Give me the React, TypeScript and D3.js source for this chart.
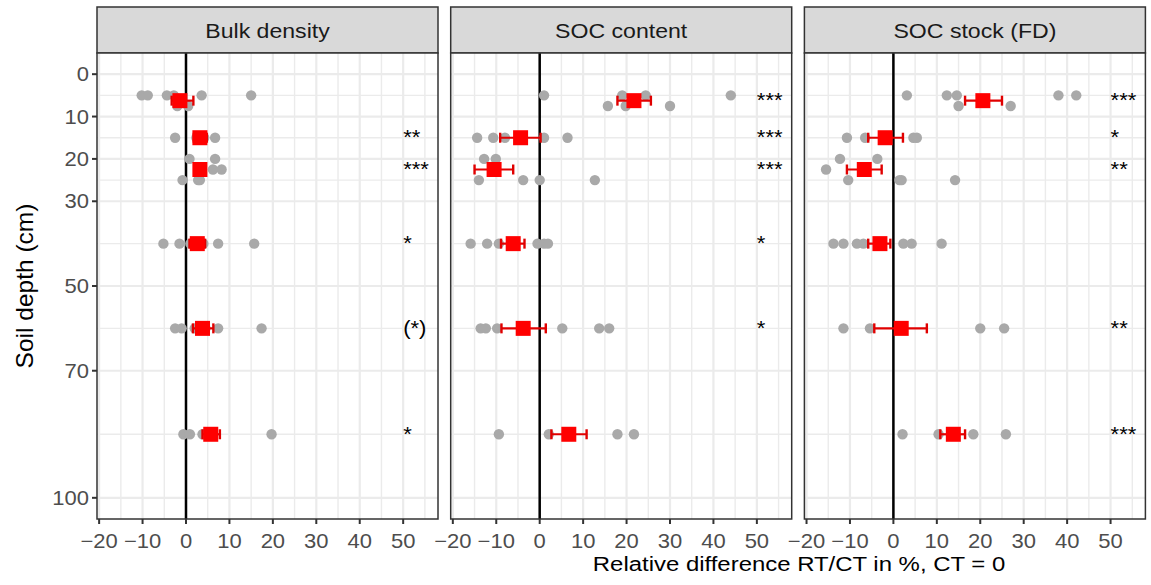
import React from "react";
import * as d3 from "d3";

// ---------- data ----------
const panels = ["Bulk density", "SOC content", "SOC stock (FD)"];
const rowDepths = [6.25, 15, 22.5, 40, 60, 85];

const meanBD = [-1.4, 3.2, 3.2, 2.6, 3.8, 5.7];
const loBD = [-3.3, 1.8, 2.0, 0.8, 1.6, 3.8];
const hiBD = [1.7, 4.8, 4.4, 4.4, 6.3, 7.8];
const sigBD = ["", "**", "***", "*", "(*)", "*"];

const meanSOC = [21.7, -4.4, -10.5, -6.1, -3.8, 6.7];
const loSOC = [17.9, -9.1, -15.0, -8.9, -8.8, 2.7];
const hiSOC = [25.6, 0.2, -6.1, -3.5, 1.4, 10.8];
const sigSOC = ["***", "***", "***", "*", "*", ""];

const meanStock = [20.6, -1.9, -6.7, -3.1, 1.8, 13.8];
const loStock = [16.5, -5.8, -10.7, -5.8, -4.4, 10.8];
const hiStock = [25.0, 2.2, -2.7, -0.7, 7.7, 16.5];
const sigStock = ["***", "*", "**", "", "**", "***"];

// single observations: [depth, relative difference]
const ptsBD: [number, number][] = [
  [5, -10.2], [5, -8.8], [5, -4.4], [5, -2.8], [5, 3.6], [5, 15.0], [7.5, 0.5], [7.5, -2.0],
  [15, -2.5], [15, 2.4], [15, 4.2], [15, 6.7],
  [20, 0.8], [20, 6.7], [22.5, 6.2], [22.5, 8.2], [25, -0.8], [25, 2.8], [25, 3.2],
  [40, -5.2], [40, -1.5], [40, 1.0], [40, 4.0], [40, 7.4], [40, 15.7],
  [60, -2.5], [60, -1.0], [60, 2.0], [60, 4.5], [60, 7.4], [60, 17.4],
  [85, -0.6], [85, 0.9], [85, 3.8], [85, 5.0], [85, 19.7],
];
const ptsSOC: [number, number][] = [
  [5, 1.0], [5, 19.0], [5, 24.4], [5, 44.0], [7.5, 15.7], [7.5, 19.8], [7.5, 30.0],
  [15, -14.4], [15, -10.7], [15, -8.0], [15, 1.0], [15, 6.4],
  [20, -12.8], [20, -10.1], [25, -14.0], [25, -3.8], [25, 0.0], [25, 12.7],
  [40, -15.9], [40, -12.1], [40, -9.4], [40, -0.5], [40, 1.0], [40, 1.9],
  [60, -13.6], [60, -12.4], [60, -9.8], [60, 5.2], [60, 13.7], [60, 16.0],
  [85, -9.4], [85, 2.1], [85, 17.9], [85, 21.7],
];
const ptsStock: [number, number][] = [
  [5, 3.1], [5, 12.3], [5, 14.6], [5, 38.0], [5, 42.1], [7.5, 15.0], [7.5, 27.0],
  [15, -10.7], [15, -6.5], [15, 4.6], [15, 5.4],
  [20, -12.3], [20, -3.7], [22.5, -15.5], [25, -10.4], [25, 1.4], [25, 1.9], [25, 14.2],
  [40, -13.8], [40, -11.5], [40, -8.4], [40, -6.9], [40, 2.3], [40, 4.2], [40, 11.1],
  [60, -11.5], [60, -5.4], [60, 20.0], [60, 25.5],
  [85, 2.1], [85, 10.4], [85, 18.4], [85, 25.9],
];

const xTicks = [-20, -10, 0, 10, 20, 30, 40, 50];
const xMinor = [-15, -5, 5, 15, 25, 35, 45, 55];
const yTicks = [0, 10, 20, 30, 50, 70, 100];
const yMinor = [5, 15, 25, 40, 60, 85];

const xTitle = "Relative difference RT/CT in %, CT = 0";
const yTitle = "Soil depth (cm)";

// ---------- layout ----------
const W = 1151;
const H = 585;
const panelLefts = [97, 450.7, 804.4];
const panelW = 341;
const stripTop = 7;
const panelTop = 53;
const panelBottom = 519;
const font = "'Liberation Sans', Arial, Helvetica, sans-serif";

const panelData = [
  { mean: meanBD, lo: loBD, hi: hiBD, sig: sigBD, pts: ptsBD },
  { mean: meanSOC, lo: loSOC, hi: hiSOC, sig: sigSOC, pts: ptsSOC },
  { mean: meanStock, lo: loStock, hi: hiStock, sig: sigStock, pts: ptsStock },
];

function SText(props: {
  x: number;
  y: number;
  sx?: number;
  size: number;
  anchor?: string;
  fill?: string;
  dy?: string;
  children: React.ReactNode;
}) {
  const { x, y, sx = 1, size, anchor = "start", fill = "#000", dy, children } = props;
  return (
    <text
      transform={`translate(${x},${y}) scale(${sx},1)`}
      dy={dy}
      textAnchor={anchor}
      fontSize={size}
      fill={fill}
    >
      {children}
    </text>
  );
}

export default function App() {
  const y = d3.scaleLinear().domain([-5, 105]).range([panelTop, panelBottom]);
  const sq = 15;
  const cap = 5;

  return (
    <svg
      width={W}
      height={H}
      style={{ position: "absolute", left: 0, top: 0, background: "#fff" }}
      fontFamily={font}
    >
      <rect x={0} y={0} width={W} height={H} fill="#fff" />
      {panels.map((name, pi) => {
        const left = panelLefts[pi];
        const x = d3.scaleLinear().domain([-20.49, 58.02]).range([left, left + panelW]);
        const d = panelData[pi];
        return (
          <g key={name}>
            {/* strip */}
            <rect
              x={left}
              y={stripTop}
              width={panelW}
              height={panelTop - stripTop}
              fill="#D9D9D9"
              stroke="#333333"
              strokeWidth={1.5}
            />
            <SText x={left + panelW / 2} y={(stripTop + panelTop) / 2} dy="0.36em" anchor="middle" size={21} sx={1.1} fill="#1A1A1A">
              {name}
            </SText>
            {/* panel background + grid */}
            <rect x={left} y={panelTop} width={panelW} height={panelBottom - panelTop} fill="#fff" />
            {xMinor.map((t) => (
              <line key={"xm" + t} x1={x(t)} x2={x(t)} y1={panelTop} y2={panelBottom} stroke="#EBEBEB" strokeWidth={1.4} />
            ))}
            {yMinor.map((t) => (
              <line key={"ym" + t} x1={left} x2={left + panelW} y1={y(t)} y2={y(t)} stroke="#EBEBEB" strokeWidth={1.4} />
            ))}
            {xTicks.map((t) => (
              <line key={"xM" + t} x1={x(t)} x2={x(t)} y1={panelTop} y2={panelBottom} stroke="#EBEBEB" strokeWidth={2.2} />
            ))}
            {yTicks.map((t) => (
              <line key={"yM" + t} x1={left} x2={left + panelW} y1={y(t)} y2={y(t)} stroke="#EBEBEB" strokeWidth={2.2} />
            ))}
            {/* zero line */}
            <line x1={x(0)} x2={x(0)} y1={panelTop} y2={panelBottom} stroke="#000" strokeWidth={2.5} />
            {/* gray observations */}
            {d.pts.map(([dep, v], i) => (
              <circle key={"p" + i} cx={x(v)} cy={y(dep)} r={5.2} fill="#A9A9A9" />
            ))}
            {/* means with error bars */}
            {rowDepths.map((dep, ri) => {
              const cy = y(dep);
              return (
                <g key={"m" + ri}>
                  <line x1={x(d.lo[ri])} x2={x(d.hi[ri])} y1={cy} y2={cy} stroke="#E00000" strokeWidth={2.2} />
                  <line x1={x(d.lo[ri])} x2={x(d.lo[ri])} y1={cy - cap} y2={cy + cap} stroke="#E00000" strokeWidth={2.4} />
                  <line x1={x(d.hi[ri])} x2={x(d.hi[ri])} y1={cy - cap} y2={cy + cap} stroke="#E00000" strokeWidth={2.4} />
                  <rect x={x(d.mean[ri]) - sq / 2} y={cy - sq / 2} width={sq} height={sq} fill="#FF0000" />
                </g>
              );
            })}
            {/* significance labels */}
            {rowDepths.map((dep, ri) =>
              d.sig[ri] ? (
                <SText key={"s" + ri} x={x(50)} y={y(dep)} dy="0.3em" size={21} sx={1.05}>
                  {d.sig[ri]}
                </SText>
              ) : null
            )}
            {/* border */}
            <rect
              x={left}
              y={panelTop}
              width={panelW}
              height={panelBottom - panelTop}
              fill="none"
              stroke="#333333"
              strokeWidth={1.5}
            />
            {/* x axis ticks */}
            {xTicks.map((t) => (
              <g key={"xt" + t}>
                <line x1={x(t)} x2={x(t)} y1={panelBottom} y2={panelBottom + 5} stroke="#333333" strokeWidth={2} />
                <SText x={x(t)} y={547.5} anchor="middle" size={20} sx={1.1} fill="#4D4D4D">
                  {t < 0 ? "\u2212" + Math.abs(t) : String(t)}
                </SText>
              </g>
            ))}
          </g>
        );
      })}
      {/* y axis */}
      {yTicks.map((t) => (
        <g key={"yt" + t}>
          <line x1={panelLefts[0] - 5} x2={panelLefts[0]} y1={y(t)} y2={y(t)} stroke="#333333" strokeWidth={2} />
          <SText x={panelLefts[0] - 8} y={y(t)} dy="0.36em" anchor="end" size={20} sx={1.1} fill="#4D4D4D">
            {t}
          </SText>
        </g>
      ))}
      <text
        transform={`translate(33, ${(panelTop + panelBottom) / 2}) rotate(-90)`}
        textAnchor="middle"
        fontSize={24.5}
        fill="#000"
      >
        {yTitle}
      </text>
      <SText x={799} y={570.5} anchor="middle" size={21} sx={1.14}>
        {xTitle}
      </SText>
    </svg>
  );
}
